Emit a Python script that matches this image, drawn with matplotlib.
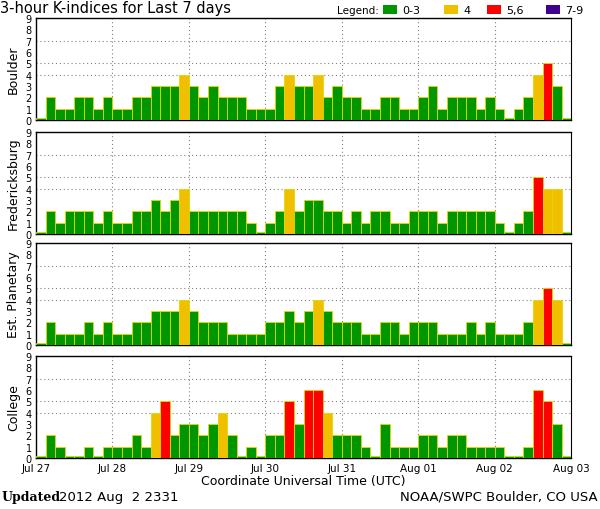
import numpy as np
import matplotlib
matplotlib.use("Agg")
import matplotlib.pyplot as plt
from matplotlib.patches import Rectangle

# 3-hour K-indices, 8 per day, Jul 27 .. Aug 02
days = ["Jul 27", "Jul 28", "Jul 29", "Jul 30", "Jul 31", "Aug 01", "Aug 02", "Aug 03"]
stations = ["Boulder", "Fredericksburg", "Est. Planetary", "College"]

boulder = [0, 2, 1, 1, 2, 2, 1, 2,
           1, 1, 2, 2, 3, 3, 3, 4,
           3, 2, 3, 2, 2, 2, 1, 1,
           1, 3, 4, 3, 3, 4, 2, 3,
           2, 2, 1, 1, 2, 2, 1, 1,
           2, 3, 1, 2, 2, 2, 1, 2,
           1, 0, 1, 2, 4, 5, 3, 0]
fredericksburg = [0, 2, 1, 2, 2, 2, 1, 2,
                  1, 1, 2, 2, 3, 2, 3, 4,
                  2, 2, 2, 2, 2, 2, 1, 0,
                  1, 2, 4, 2, 3, 3, 2, 2,
                  1, 2, 1, 2, 2, 1, 1, 2,
                  2, 2, 1, 2, 2, 2, 2, 2,
                  1, 0, 1, 2, 5, 4, 4, 0]
planetary = [0, 2, 1, 1, 1, 2, 1, 2,
             1, 1, 2, 2, 3, 3, 3, 4,
             3, 2, 2, 2, 1, 1, 1, 1,
             2, 2, 3, 2, 3, 4, 3, 2,
             2, 2, 1, 1, 2, 2, 1, 2,
             2, 2, 1, 1, 1, 2, 1, 2,
             1, 1, 1, 2, 4, 5, 4, 0]
college = [0, 2, 1, 0, 0, 1, 0, 1,
           1, 1, 2, 1, 4, 5, 2, 3,
           3, 2, 3, 4, 2, 0, 1, 0,
           2, 2, 5, 3, 6, 6, 4, 2,
           2, 2, 1, 0, 3, 1, 1, 1,
           2, 2, 1, 2, 2, 1, 1, 1,
           1, 0, 0, 1, 6, 5, 3, 0]

legend_labels = ["0-3", "4", "5,6", "7-9"]
legend_colors = ["#009600", "#F0C000", "#FF0000", "#400090"]


def kcolor(k):
    if k <= 3:
        return legend_colors[0]
    if k == 4:
        return legend_colors[1]
    if k <= 6:
        return legend_colors[2]
    return legend_colors[3]


fig = plt.figure(figsize=(6, 5.1), dpi=100)
left, right = 0.06, 0.952
tops = [0.9627, 0.739, 0.5216, 0.30]
h = 0.2

all_data = [boulder, fredericksburg, planetary, college]
for i, (name, vals) in enumerate(zip(stations, all_data)):
    ax = fig.add_axes([left, tops[i] - h, right - left, h])
    vals = np.array(vals)
    x = np.arange(len(vals))
    # zero values still get a thin stub, like the original plot
    ax.bar(x, np.maximum(vals, 0.2), width=1, align="edge",
           color=[kcolor(v) for v in vals], edgecolor="#E0D800", linewidth=0.6, zorder=3)
    ax.set_xlim(0, len(vals))
    ax.set_ylim(0, 9)
    ax.set_yticks(range(10))
    ax.set_yticklabels([str(k) for k in range(10)], fontsize=7)
    ax.tick_params(axis="y", length=0, pad=3)
    ax.set_xticks(np.arange(0, len(vals) + 1, 8))
    ax.tick_params(axis="x", length=0)
    if i == 3:
        ax.set_xticklabels(days, fontsize=7.5)
        ax.set_xlabel("Coordinate Universal Time (UTC)", fontsize=9, labelpad=1)
    else:
        ax.set_xticklabels([])
    for yy in [4, 5, 7]:
        ax.axhline(yy, color="#808080", linestyle=(0, (1, 2.5)), linewidth=0.8, zorder=1)
    for xx in range(8, len(vals), 8):
        ax.axvline(xx, color="#808080", linestyle=(0, (1, 2.5)), linewidth=0.8, zorder=1)
    ax.set_ylabel(name, fontsize=9, labelpad=4)
    for s in ["left", "top", "bottom"]:
        ax.spines[s].set_linewidth(1.0)
    ax.spines["right"].set_linestyle((0, (2, 1)))

fig.text(0.0, 0.984, "3-hour K-indices for Last 7 days", fontsize=10.5, va="center", ha="left")

# legend strip at top right
fig.text(0.562, 0.978, "Legend:", fontsize=7.5, va="center", ha="left")
lx = [0.638, 0.740, 0.812, 0.910]
for x0, lab, col in zip(lx, legend_labels, legend_colors):
    fig.patches.append(Rectangle((x0, 0.970), 0.023, 0.019, transform=fig.transFigure,
                                 facecolor=col, edgecolor="none"))
    fig.text(x0 + 0.032, 0.978, lab, fontsize=8, va="center", ha="left")

fig.text(0.002, 0.025, "Updated", fontsize=9, fontweight="bold", family="DejaVu Serif",
         va="center", ha="left")
fig.text(0.098, 0.025, "2012 Aug  2 2331", fontsize=9.5, va="center", ha="left")
fig.text(0.996, 0.025, "NOAA/SWPC Boulder, CO USA", fontsize=9.5, va="center", ha="right")

fig.savefig("out.png", dpi=100)
